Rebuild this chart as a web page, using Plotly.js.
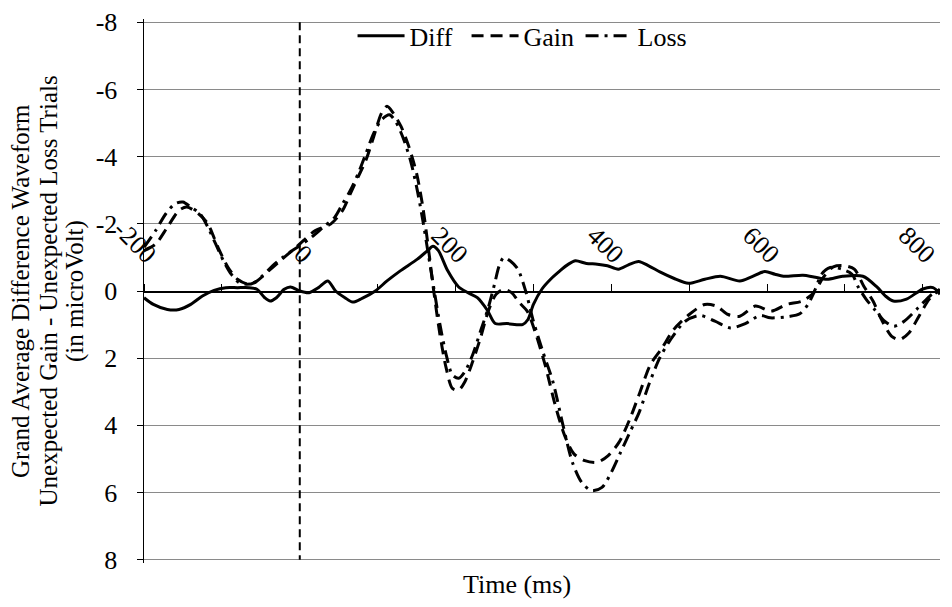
<!DOCTYPE html>
<html>
<head>
<meta charset="utf-8">
<script src="https://cdn.plot.ly/plotly-3.0.1.min.js"></script>
<style>
  html, body { margin: 0; padding: 0; background: #fff; }
  #chart { width: 952px; height: 607px; }
</style>
</head>
<body>
<div id="chart"></div>
<script>
// Grand average waveforms (microvolts) against time from stimulus onset (ms)
const diffTime = [-200,-188,-170,-155,-140,-125,-110,-95,-80,-65,-55,-45,-38,-30,-20,-12,0,12,24,36,46,58,68,80,97,112,129,151,164,171,178,190,204,216,228,241,251,266,286,293,300,311,322,334,345,354,368,382,395,409,422,435,448,463,480,499,520,540,565,580,597,610,621,646,660,677,697,723,741,752,762,779,800,813,822];
const diffValues = [0.2,0.4,0.55,0.55,0.4,0.15,-0.02,-0.1,-0.1,-0.1,-0.05,0.2,0.3,0.2,-0.05,-0.12,0,0.05,-0.1,-0.3,0,0.2,0.33,0.22,0,-0.3,-0.6,-0.95,-1.2,-1.33,-1.2,-0.6,-0.12,0.05,0.2,0.58,0.97,0.97,1.0,0.85,0.4,-0.06,-0.35,-0.6,-0.8,-0.9,-0.82,-0.8,-0.75,-0.65,-0.78,-0.88,-0.75,-0.56,-0.38,-0.23,-0.35,-0.44,-0.3,-0.42,-0.58,-0.5,-0.44,-0.47,-0.42,-0.35,-0.44,-0.44,-0.12,0.15,0.3,0.24,-0.06,-0.1,0.1];

const gainTime = [-200,-185,-170,-155,-145,-130,-118,-105,-92,-80,-65,-55,-40,-25,-10,0,20,40,55,65,75,85,95,105,112,120,130,140,150,158,165,172,180,188,196,204,212,222,232,242,252,262,272,282,292,302,315,328,340,352,366,382,396,410,424,437,450,465,480,500,520,535,550,565,585,605,625,645,660,672,685,700,712,724,736,748,760,770,782,795,808,822];
const gainValues = [-1.2,-1.4,-1.9,-2.4,-2.5,-2.3,-2.0,-1.3,-0.7,-0.35,-0.2,-0.3,-0.6,-0.9,-1.2,-1.4,-1.8,-2.0,-2.4,-2.9,-3.4,-3.9,-4.6,-5.3,-5.5,-5.3,-4.9,-4.3,-3.5,-2.5,-1.3,0.0,1.3,2.3,2.9,2.95,2.7,2.1,1.4,0.6,0.1,-0.05,0.05,0.35,0.6,1.2,2.2,3.4,4.3,4.85,5.05,5.1,4.9,4.5,3.8,3.0,2.2,1.7,1.15,0.7,0.4,0.45,0.7,0.75,0.45,0.6,0.4,0.3,0.05,-0.4,-0.72,-0.75,-0.65,-0.15,0.3,0.9,1.35,1.45,1.25,0.75,0.25,-0.05];

const lossTime = [-200,-185,-172,-160,-150,-140,-128,-118,-108,-98,-88,-78,-68,-58,-48,-35,-22,-10,0,15,30,45,55,65,75,85,95,105,115,123,132,142,150,158,165,172,180,188,196,204,212,222,232,242,250,256,262,270,280,290,300,312,325,338,350,362,375,388,400,412,424,436,448,462,476,495,514,533,553,572,591,604,628,642,653,662,670,681,696,709,717,727,738,751,763,776,794,809,822];
const lossValues = [-1.3,-1.8,-2.3,-2.6,-2.65,-2.5,-2.3,-1.9,-1.4,-0.9,-0.5,-0.25,-0.2,-0.25,-0.45,-0.75,-1.0,-1.2,-1.35,-1.6,-1.9,-2.2,-2.6,-3.0,-3.5,-4.1,-4.7,-5.1,-5.25,-5.05,-4.6,-3.9,-3.1,-2.1,-1.1,-0.1,1.0,1.9,2.5,2.6,2.4,1.9,1.2,0.5,-0.2,-0.75,-1.0,-0.9,-0.65,0.0,0.9,1.8,2.7,4.0,5.1,5.7,5.95,5.85,5.4,4.8,4.2,3.6,2.8,2.0,1.45,0.9,0.73,0.9,1.1,0.97,0.73,0.8,0.76,0.68,0.38,-0.06,-0.5,-0.7,-0.65,-0.5,-0.12,0.24,0.55,0.9,1.05,0.9,0.5,0.15,-0.05];

// Axis ticks: marks every 100 ms, labels every 200 ms
const timeTicks = [-200,-100,0,100,200,300,400,500,600,700,800];
const timeTickText = ['-200','','0','','200','','400','','600','','800'];
const voltTicks = [-8,-6,-4,-2,0,2,4,6,8];
const voltTickText = ['-8','-6','-4','-2','0','2','4','6','8'];
const onsetMs = 0;

// Vertical axis caption, one line per entry
const yTitleLines = ['Grand Average Difference Waveform', 'Unexpected Gain - Unexpected Loss Trials', '(in microVolt)'];
const xTitle = 'Time (ms)';

const serif = 'Liberation Serif, "Times New Roman", serif';
const txt = (size) => ({ family: serif, size: size, color: '#000' });

const lineStyle = (dash) => ({ color: '#000', width: 3, dash: dash, shape: 'spline', smoothing: 0.8 });

const traces = [
  { name: 'Diff', x: diffTime, y: diffValues, type: 'scatter', mode: 'lines', line: lineStyle('solid') },
  { name: 'Gain', x: gainTime, y: gainValues, type: 'scatter', mode: 'lines', line: lineStyle('12px,7px') },
  { name: 'Loss', x: lossTime, y: lossValues, type: 'scatter', mode: 'lines', line: lineStyle('13px,6px,3px,6px') }
];

// plot area spans 144..940 px horizontally
const plotLeft = 144, plotWidth = 796;
const yTitleAnnotations = yTitleLines.map((line, i) => ({
  text: line, textangle: -90, showarrow: false,
  xref: 'paper', yref: 'paper',
  x: (20 + i * 27.5 - plotLeft) / plotWidth, y: 0.5,
  xanchor: 'center', yanchor: 'middle',
  font: txt(25)
}));

const layout = {
  width: 952,
  height: 607,
  margin: { l: 144, r: 12, t: 12, b: 44, pad: 0 },
  paper_bgcolor: '#fff',
  plot_bgcolor: '#fff',
  font: txt(26),
  showlegend: true,
  legend: {
    orientation: 'h',
    x: 0.262, y: 1.012, xanchor: 'left', yanchor: 'top',
    itemwidth: 47,
    entrywidth: 52,
    bgcolor: 'rgba(0,0,0,0)',
    font: txt(26)
  },
  xaxis: {
    range: [-200, 822],
    anchor: 'free',
    position: 0.5,
    side: 'top',
    tickmode: 'array',
    tickvals: timeTicks,
    ticktext: timeTickText,
    tickangle: 45,
    ticks: 'outside',
    ticklen: 7,
    tickwidth: 1,
    tickcolor: '#000',
    ticklabelshift: 11,
    ticklabelstandoff: 5,
    showline: true,
    linecolor: '#000',
    linewidth: 1.5,
    showgrid: false,
    zeroline: false,
    tickfont: txt(26)
  },
  yaxis: {
    range: [8.1, -8.1],
    tickmode: 'array',
    tickvals: voltTicks,
    ticktext: voltTickText,
    ticks: 'outside',
    ticklen: 6,
    tickcolor: '#000',
    showline: true,
    linecolor: '#000',
    linewidth: 1.5,
    showgrid: true,
    gridcolor: '#8a8a8a',
    gridwidth: 1,
    zeroline: false,
    ticklabelstandoff: 14,
    tickfont: txt(26)
  },
  shapes: [
    { type: 'line', xref: 'x', yref: 'y', x0: onsetMs, x1: onsetMs, y0: voltTicks[0], y1: voltTicks[voltTicks.length - 1],
      line: { color: '#000', width: 2, dash: '8px,5px' } }
  ],
  annotations: [
    { text: xTitle, xref: 'paper', yref: 'paper', x: 0.4686, y: -0.04,
      xanchor: 'center', yanchor: 'middle', showarrow: false, font: txt(26) }
  ].concat(yTitleAnnotations)
};

Plotly.newPlot('chart', traces, layout, { displayModeBar: false, staticPlot: true });
</script>
</body>
</html>
